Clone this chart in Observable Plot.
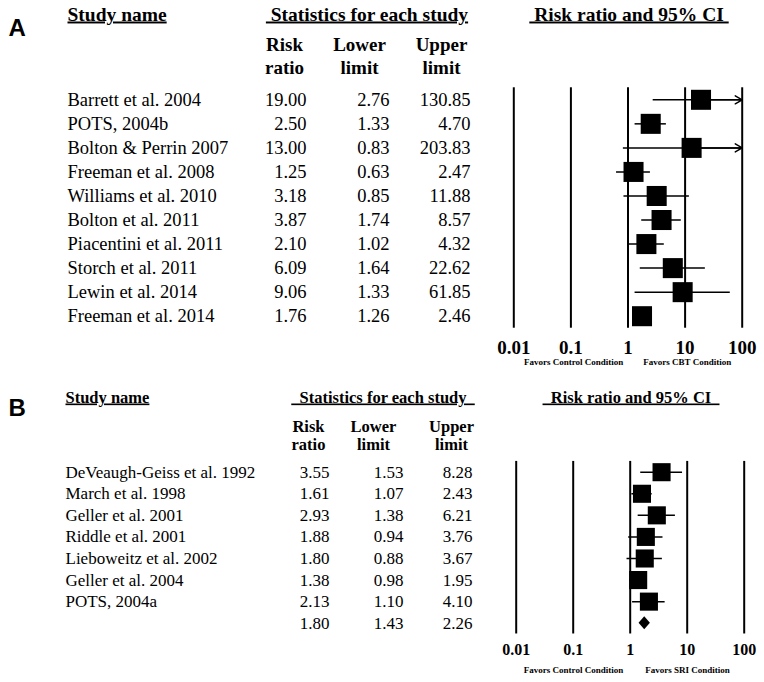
<!DOCTYPE html>
<html>
<head>
<meta charset="utf-8">
<script src="https://cdn.jsdelivr.net/npm/d3@7"></script>
<script src="https://cdn.jsdelivr.net/npm/@observablehq/plot@0.6"></script>
<style>
  body { margin: 0; background: #fff; }
  #chart svg { display: block; }
  g[aria-description="header"] text { text-decoration: underline; }
</style>
</head>
<body>
<div id="chart"></div>
<script>
// ---------- Data ----------
const studyA = ["Barrett et al. 2004", "POTS, 2004b", "Bolton & Perrin 2007", "Freeman et al. 2008",
  "Williams et al. 2010", "Bolton et al. 2011", "Piacentini et al. 2011", "Storch et al. 2011",
  "Lewin et al. 2014", "Freeman et al. 2014"];
const rrA    = [19.00, 2.50, 13.00, 1.25, 3.18, 3.87, 2.10, 6.09, 9.06, 1.76];
const lowerA = [2.76, 1.33, 0.83, 0.63, 0.85, 1.74, 1.02, 1.64, 1.33, 1.26];
const upperA = [130.85, 4.70, 203.83, 2.47, 11.88, 8.57, 4.32, 22.62, 61.85, 2.46];

const studyB = ["DeVeaugh-Geiss et al. 1992", "March et al. 1998", "Geller et al. 2001",
  "Riddle et al. 2001", "Lieboweitz et al. 2002", "Geller et al. 2004", "POTS, 2004a"];
const rrB    = [3.55, 1.61, 2.93, 1.88, 1.80, 1.38, 2.13];
const lowerB = [1.53, 1.07, 1.38, 0.94, 0.88, 0.98, 1.10];
const upperB = [8.28, 2.43, 6.21, 3.76, 3.67, 1.95, 4.10];
const summaryB = [1.80, 1.43, 2.26]; // risk ratio, lower, upper

const tickValues = [0.01, 0.1, 1, 10, 100];
const tickLabels = ["0.01", "0.1", "1", "10", "100"];
const colHeaders = ["Risk\nratio", "Lower\nlimit", "Upper\nlimit"];

const SERIF = "'Liberation Serif', 'Times New Roman', serif";
const SANS = "'Liberation Sans', Arial, sans-serif";

function forest(cfg) {
  const rows = cfg.names.map((name, i) => ({i, name, rr: cfg.rr[i], lo: cfg.lower[i], hi: cfg.upper[i]}));
  const table = cfg.summary
    ? [...rows, {i: rows.length, name: "", rr: cfg.summary[0], lo: cfg.summary[1], hi: cfg.summary[2]}]
    : rows;
  const n = table.length;
  const marks = [
    // panel letter
    Plot.text([cfg.letter], {frameAnchor: "top-left", dx: 8, dy: cfg.letterY, lineAnchor: "bottom",
      fontFamily: SANS, fontWeight: "bold", fontSize: 24, fill: "black"}),
    // underlined section headers
    Plot.text([cfg.h1], {frameAnchor: "top-left", dx: cfg.nameX, dy: cfg.headY, lineAnchor: "bottom",
      textAnchor: "start", fontWeight: "bold", fontSize: cfg.headSize, fontFamily: SERIF, fill: "black",
      ariaDescription: "header"}),
    Plot.text([cfg.h2], {frameAnchor: "top-left", dx: cfg.h2X, dy: cfg.headY, lineAnchor: "bottom",
      textAnchor: "middle", fontWeight: "bold", fontSize: cfg.headSize, fontFamily: SERIF, fill: "black",
      ariaDescription: "header"}),
    Plot.text([cfg.h3], {frameAnchor: "top-left", dx: cfg.h3X, dy: cfg.headY, lineAnchor: "bottom",
      textAnchor: "middle", fontWeight: "bold", fontSize: cfg.headSize, fontFamily: SERIF, fill: "black",
      ariaDescription: "header"}),
    // column sub-headers
    ...colHeaders.map((h, k) => Plot.text([h], {frameAnchor: "top-left", dx: cfg.subX[k], dy: cfg.subY,
      lineAnchor: "bottom", lineHeight: cfg.subLH, textAnchor: "middle", fontWeight: "bold",
      fontSize: cfg.subSize, fontFamily: SERIF, fill: "black"})),
    // study names and statistics
    Plot.text(table, {y: "i", text: "name", frameAnchor: "left", dx: cfg.nameX, textAnchor: "start",
      lineAnchor: "middle", fontSize: cfg.rowSize, fontFamily: SERIF, fill: "black"}),
    Plot.text(table, {y: "i", text: d => d.rr.toFixed(2), frameAnchor: "left", dx: cfg.numX[0], textAnchor: "end",
      lineAnchor: "middle", fontSize: cfg.rowSize, fontFamily: SERIF, fill: "black"}),
    Plot.text(table, {y: "i", text: d => d.lo.toFixed(2), frameAnchor: "left", dx: cfg.numX[1], textAnchor: "end",
      lineAnchor: "middle", fontSize: cfg.rowSize, fontFamily: SERIF, fill: "black"}),
    Plot.text(table, {y: "i", text: d => d.hi.toFixed(2), frameAnchor: "left", dx: cfg.numX[2], textAnchor: "end",
      lineAnchor: "middle", fontSize: cfg.rowSize, fontFamily: SERIF, fill: "black"}),
    // vertical reference lines
    Plot.ruleX(tickValues, {x: d => d, y1: -0.5, y2: n - 0.5, stroke: "black", strokeWidth: 2}),
    // confidence intervals
    Plot.ruleY(rows, {y: "i", x1: "lo", x2: "hi", stroke: "black", strokeWidth: 1.5}),
    Plot.arrow(rows.filter(d => d.hi > 100), {x1: "rr", x2: "hi", y1: "i", y2: "i", headLength: 8,
      stroke: "black", strokeWidth: 1.5}),
    // point estimates
    Plot.dot(rows, {x: "rr", y: "i", symbol: "square", r: cfg.r, fill: "black", stroke: "none"}),
    // tick labels
    Plot.text(tickValues, {x: d => d, text: (d, i) => tickLabels[i], frameAnchor: "top", dy: cfg.tickY,
      lineAnchor: "middle", fontWeight: "bold", fontSize: cfg.tickSize, fontFamily: SERIF, fill: "black"}),
    // favors labels
    Plot.text([cfg.favL], {x: () => 1, frameAnchor: "top", dy: cfg.favY, dx: cfg.favDx[0], textAnchor: "end",
      lineAnchor: "middle", fontWeight: "bold", fontSize: 9, fontFamily: SERIF, fill: "black"}),
    Plot.text([cfg.favR], {x: () => 1, frameAnchor: "top", dy: cfg.favY, dx: cfg.favDx[1], textAnchor: "start",
      lineAnchor: "middle", fontWeight: "bold", fontSize: 9, fontFamily: SERIF, fill: "black"})
  ];
  if (cfg.summary) {
    const s = table[n - 1];
    const diamond = [
      {x: s.lo, y1: s.i, y2: s.i},
      {x: s.rr, y1: s.i - 0.3, y2: s.i + 0.3},
      {x: s.hi, y1: s.i, y2: s.i}
    ];
    marks.push(Plot.areaY(diamond, {x: "x", y1: "y1", y2: "y2", fill: "black", curve: "linear"}));
  }
  return Plot.plot({
    width: 764,
    height: cfg.height,
    marginTop: 0, marginRight: 0, marginBottom: 0, marginLeft: 0,
    style: {background: "white", fontFamily: SERIF, color: "black"},
    x: {type: "log", domain: [0.01, 100], range: cfg.xRange, clamp: true, axis: null},
    y: {type: "linear", domain: [0, n - 1], range: cfg.yRange, axis: null},
    marks
  });
}

const chartA = forest({
  letter: "A", letterY: 35,
  names: studyA, rr: rrA, lower: lowerA, upper: upperA,
  height: 378, xRange: [513.3, 741.7], yRange: [99.3, 315.7], r: 11.3,
  h1: "Study name", h2: "\u00a0Statistics for each study", h3: "\u00a0Risk ratio and 95% CI\u00a0",
  h2X: 366.5, h3X: 628.5, headY: 20, headSize: 19.5,
  subX: [284, 359, 441], subY: 73, subLH: 1.16, subSize: 19,
  nameX: 67, numX: [306, 389, 470], rowSize: 18.5,
  tickY: 347, tickSize: 19,
  favL: "Favors Control Condition", favR: "Favors CBT Condition", favY: 362, favDx: [-4.7, 15.3]
});

const chartB = forest({
  letter: "B", letterY: 37,
  names: studyB, rr: rrB, lower: lowerB, upper: upperB, summary: summaryB,
  height: 304, xRange: [515.7, 743.7], yRange: [93.7, 244.7], r: 10.2,
  h1: "Study name", h2: "\u00a0\u00a0Statistics for each study\u00a0\u00a0", h3: "\u00a0\u00a0Risk ratio and 95% CI\u00a0\u00a0",
  h2X: 382.5, h3X: 630.5, headY: 24, headSize: 16.5,
  subX: [308, 373, 451], subY: 71, subLH: 1.05, subSize: 16.5,
  nameX: 65, numX: [329, 403, 472], rowSize: 17,
  tickY: 271, tickSize: 16,
  favL: "Favors Control Condition", favR: "Favors SRI Condition", favY: 292, favDx: [-7, 15]
});

const root = document.getElementById("chart");
root.append(chartA, chartB);
</script>
</body>
</html>
